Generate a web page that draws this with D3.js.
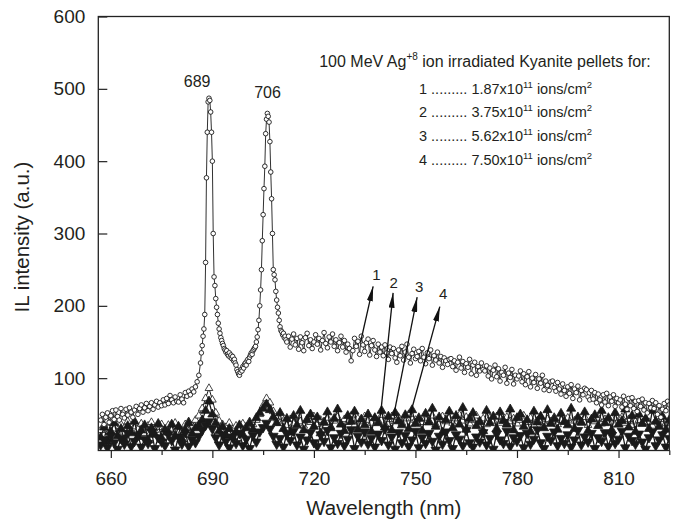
<!DOCTYPE html>
<html>
<head>
<title>IL spectra of 100 MeV Ag ion irradiated Kyanite</title>
<meta charset="utf-8" />
<script src="https://cdnjs.cloudflare.com/ajax/libs/d3/7.8.5/d3.min.js"></script>
<style>
body { margin: 0; background: #fff; }
svg text { font-family: "Liberation Sans", Arial, sans-serif; fill: #231f20; }
</style>
</head>
<body>
<svg id="chart" width="677" height="525"></svg>
<script>
// series 1 (open circles), read off in three pieces
// 657 - 686 nm, every 0.5 nm
const il1a = [42, 50, 36, 46, 52, 39, 48, 55, 43, 56,
	47, 42, 58, 50, 45, 57, 49, 59, 53, 46,
	56, 61, 50, 58, 63, 53, 59, 65, 55, 61,
	66, 57, 63, 68, 60, 66, 62, 70, 63, 72,
	65, 76, 70, 66, 74, 68, 67, 77, 71, 66,
	80, 75, 82, 77, 85, 81, 88, 95, 104];
// 686.5 - 711.75 nm, every 0.25 nm (the two peaks)
const il1b = [121, 135, 145, 158, 168, 188, 260, 377, 440, 482,
	487, 484, 468, 440, 400, 300, 240, 228, 210, 198,
	188, 176, 168, 162, 156, 152, 148, 145, 141, 139,
	136, 138, 133, 131, 135, 129, 132, 127, 130, 124,
	126, 121, 118, 112, 109, 106, 104, 108, 112, 110,
	116, 114, 119, 121, 118, 124, 126, 123, 129, 132,
	135, 133, 138, 140, 142, 144, 150, 157, 167, 180,
	200, 222, 250, 290, 326, 362, 393, 438, 458, 466,
	462, 454, 427, 385, 348, 300, 250, 243, 236, 220,
	208, 198, 190, 180, 171, 166, 164, 160, 162, 156,
	158, 153];
// 712 - 825 nm, every 0.5 nm
const il1c = [150, 158, 143, 154, 161, 146, 155, 140, 157, 149, 138, 156, 162, 145, 153, 141, 150,
	160, 147, 155, 139, 152, 163, 148, 142, 157, 150, 161, 144, 153, 138, 149, 158, 143, 152, 136, 147,
	141, 124, 138, 155, 144, 151, 133, 158, 146, 137, 149, 154, 132, 145, 152, 139, 130, 147, 136, 143,
	131, 146, 135, 126, 143, 134, 141, 128, 122, 139, 131, 144, 125, 136, 147, 129, 121, 134, 140, 127,
	130, 137, 124, 141, 129, 120, 135, 127, 139, 118, 131, 125, 136, 121, 130, 115, 128, 124, 119, 126,
	127, 116, 124, 111, 122, 129, 114, 123, 108, 120, 115, 126, 106, 118, 122, 104, 116, 110, 121, 112,
	110, 117, 103, 114, 99, 111, 118, 102, 113, 96, 108, 104, 115, 93, 107, 101, 112, 92, 104, 99,
	103, 110, 95, 106, 91, 102, 109, 88, 100, 94, 105, 86, 99, 93, 104, 84, 96, 90, 83, 95,
	96, 87, 82, 94, 85, 78, 92, 83, 75, 88, 79, 91, 72, 85, 80, 89, 70, 83, 77, 86,
	84, 74, 70, 83, 71, 80, 66, 78, 70, 63, 77, 67, 79, 62, 74, 68, 77, 61, 72, 66,
	70, 60, 75, 64, 57, 72, 62, 73, 58, 68, 54, 69, 61, 71, 56, 66, 52, 65, 59, 69,
	58, 66, 50, 62, 46, 57, 65, 55, 68, 63];

// series 2 - 4, 657 - 825 nm every 1 nm
const il2 = [28, 35, 22, 38, 30, 25, 36, 31, 40, 27,
	33, 29, 37, 24, 34, 39, 28, 32, 36, 26,
	35, 30, 38, 33, 27, 36, 40, 34, 42, 48,
	58, 72, 86, 70, 52, 41, 36, 32, 38, 29,
	34, 30, 37, 33, 40, 36, 42, 50, 62, 72,
	66, 54, 44, 38, 41, 35, 43, 37, 46, 40,
	34, 44, 39, 47, 36, 42, 38, 45, 33, 41,
	46, 37, 43, 39, 48, 35, 44, 40, 47, 42,
	38, 45, 41, 49, 36, 43, 47, 40, 46, 38,
	44, 50, 37, 42, 46, 39, 45, 41, 48, 36,
	43, 47, 40, 45, 38, 44, 49, 41, 46, 37,
	42, 48, 39, 44, 36, 45, 41, 47, 38, 43,
	46, 40, 44, 37, 42, 48, 39, 45, 35, 41,
	47, 38, 43, 40, 46, 36, 42, 39, 45, 37,
	41, 44, 38, 46, 35, 42, 40, 45, 37, 43,
	39, 44, 36, 41, 46, 38, 43, 35, 40, 42,
	37, 44, 39, 34, 41, 36, 43, 38, 40];
const il3 = [18, 32, 12, 26, 38, 20, 30, 15, 34, 24,
	40, 19, 28, 35, 14, 31, 22, 37, 17, 29,
	25, 36, 20, 33, 16, 28, 38, 23, 31, 35,
	42, 55, 68, 50, 38, 27, 33, 21, 30, 18,
	26, 35, 22, 31, 38, 29, 45, 52, 58, 64,
	56, 46, 38, 52, 30, 44, 25, 48, 35, 55,
	28, 42, 50, 33, 46, 24, 39, 53, 31, 44,
	57, 36, 27, 48, 40, 54, 29, 43, 35, 50,
	26, 45, 38, 55, 32, 47, 28, 52, 41, 35,
	49, 30, 56, 37, 44, 27, 51, 39, 58, 33,
	46, 25, 42, 54, 31, 48, 36, 59, 29, 44,
	52, 34, 40, 27, 55, 38, 47, 30, 53, 41,
	36, 57, 28, 45, 50, 33, 42, 26, 54, 39,
	47, 31, 56, 37, 44, 29, 51, 40, 35, 58,
	30, 46, 39, 53, 27, 43, 49, 34, 55, 38,
	45, 28, 52, 36, 41, 57, 32, 48, 26, 50,
	37, 44, 30, 55, 40, 33, 47, 29, 42];
const il4 = [8, 15, 4, 20, 11, 2, 17, 9, 24, 6,
	13, 21, 5, 16, 10, 26, 3, 18, 12, 7,
	22, 14, 1, 19, 9, 25, 6, 15, 11, 20,
	28, 35, 40, 30, 18, 8, 22, 13, 4, 19,
	10, 24, 7, 16, 3, 21, 12, 26, 32, 38,
	30, 20, 9, 17, 5, 23, 14, 27, 8, 19,
	2, 15, 25, 11, 6, 22, 13, 28, 4, 18,
	10, 24, 7, 16, 29, 3, 20, 12, 26, 9,
	17, 5, 23, 14, 30, 8, 19, 2, 25, 11,
	21, 6, 15, 27, 4, 18, 10, 24, 13, 1,
	20, 9, 26, 14, 3, 22, 16, 7, 28, 11,
	5, 19, 12, 25, 8, 17, 2, 23, 15, 10,
	27, 6, 18, 13, 21, 4, 24, 9, 16, 29,
	11, 3, 20, 14, 26, 7, 17, 10, 22, 5,
	15, 28, 8, 19, 12, 24, 3, 18, 13, 25,
	6, 21, 10, 16, 27, 4, 20, 14, 9, 23,
	12, 2, 18, 26, 7, 15, 22, 5, 17];

const xTicks = [660, 690, 720, 750, 780, 810];
const xMinor = [675, 705, 735, 765, 795, 825];
const yTicks = [100, 200, 300, 400, 500, 600];

// peak annotations [nm, intensity]
const peakNames = ["689", "706"];
const peakAt = [[685.5, 503], [706.3, 487]];

// arrows: sample number, tail and head [nm, intensity]
const arrowNames = ["1", "2", "3", "4"];
const arrowTail = [[733.8, 150], [739.7, 50], [743.6, 49], [748.3, 47]];
const arrowHead = [[737.5, 227], [743.4, 218], [750.5, 212], [757.2, 199]];
const arrowLabel = [[738.5, 243], [743.6, 232], [751.1, 227], [758.2, 217]];

const legendTitle = ["100 MeV Ag", "+8", " ion irradiated Kyanite pellets for:"];
const fluences = ["1.87", "3.75", "5.62", "7.50"];

// build point lists
let s1 = [];
il1a.forEach((v, i) => s1.push([657 + 0.5 * i, v]));
il1b.forEach((v, i) => s1.push([686.5 + 0.25 * i, v]));
il1c.forEach((v, i) => s1.push([712 + 0.5 * i, v]));
const s2 = il2.map((v, i) => [657 + i, v]);
const s3 = il3.map((v, i) => [657 + i, v]);
const s4 = il4.map((v, i) => [657 + i, v]);

let svg = d3.select("#chart");
let plotL = 98.3, plotR = 669.3, plotT = 16.5, plotB = 450.5;

let x = d3.scaleLinear().domain([656.3, 825]).range([plotL, plotR]);
let y = d3.scaleLinear().domain([0, 600]).range([plotB, plotT]);

let defs = svg.append("defs");
defs.append("clipPath").attr("id", "plot")
	.append("rect")
	.attr("x", plotL).attr("y", plotT)
	.attr("width", plotR - plotL).attr("height", plotB - plotT);
defs.append("marker")
	.attr("id", "head")
	.attr("viewBox", "0 0 15 6")
	.attr("refX", 15).attr("refY", 3)
	.attr("markerWidth", 15).attr("markerHeight", 6)
	.attr("markerUnits", "userSpaceOnUse")
	.attr("orient", "auto")
	.append("path")
	.attr("d", "M0,0L15,3L0,6Z")
	.attr("fill", "#111");

let line = d3.line().x(d => x(d[0])).y(d => y(d[1]));
let g = svg.append("g").attr("clip-path", "url(#plot)");

function drawSeries(pts, symbol, size, fill, flip, lw) {
	g.append("path")
		.datum(pts)
		.attr("d", line)
		.attr("fill", "none")
		.attr("stroke", "#1a1a1a")
		.attr("stroke-width", lw);
	g.append("g").selectAll("path")
		.data(pts)
		.enter()
		.append("path")
			.attr("d", d3.symbol().type(symbol).size(size))
			.attr("transform", d => "translate(" + x(d[0]) + "," + y(d[1]) + ")" + (flip ? " rotate(180)" : ""))
			.attr("fill", fill)
			.attr("stroke", "#1a1a1a")
			.attr("stroke-width", 0.8);
}

drawSeries(s2, d3.symbolTriangle, 26, "#fff", false, 1);
drawSeries(s3, d3.symbolTriangle, 36, "#1a1a1a", false, 1.3);
drawSeries(s4, d3.symbolTriangle, 40, "#1a1a1a", true, 1.3);

// series 1
g.append("path")
	.datum(s1)
	.attr("d", line)
	.attr("fill", "none")
	.attr("stroke", "#1a1a1a")
	.attr("stroke-width", 0.9);
g.append("g").selectAll("circle")
	.data(s1)
	.enter()
	.append("circle")
		.attr("cx", d => x(d[0]))
		.attr("cy", d => y(d[1]))
		.attr("r", 2.3)
		.attr("fill", "#fff")
		.attr("stroke", "#1a1a1a")
		.attr("stroke-width", 0.9);

// axes
svg.append("g")
	.attr("transform", "translate(0," + plotB + ")")
	.call(d3.axisBottom(x).tickValues(xTicks).tickSize(7.5).tickPadding(14).tickFormat(d3.format("d")));
svg.append("g")
	.attr("transform", "translate(0," + plotB + ")")
	.call(d3.axisBottom(x).tickValues(xMinor).tickSize(4.5).tickFormat(""));
svg.append("g")
	.attr("transform", "translate(" + plotL + ",0)")
	.call(d3.axisLeft(y).tickValues(yTicks).tickSizeInner(-9).tickSizeOuter(0).tickPadding(13));
svg.selectAll(".domain").remove();
svg.selectAll(".tick line").attr("stroke", "#222").attr("stroke-width", 1.2);
svg.selectAll(".tick text")
	.style("font-family", "'Liberation Sans', Arial, sans-serif")
	.style("font-size", "19px")
	.attr("fill", "#2b2b2b");

svg.append("rect")
	.attr("x", plotL).attr("y", plotT)
	.attr("width", plotR - plotL).attr("height", plotB - plotT)
	.attr("fill", "none")
	.attr("stroke", "#222")
	.attr("stroke-width", 1.3);

// axis titles
svg.append("text")
	.attr("x", (plotL + plotR) / 2)
	.attr("y", 515)
	.attr("text-anchor", "middle")
	.style("font-size", "20.5px")
	.text("Wavelength (nm)");
svg.append("text")
	.attr("transform", "translate(29,237) rotate(-90)")
	.attr("text-anchor", "middle")
	.style("font-size", "20.5px")
	.text("IL intensity (a.u.)");

// peak labels
svg.selectAll(".peak")
	.data(peakNames)
	.enter()
	.append("text")
		.attr("class", "peak")
		.attr("x", (d, i) => x(peakAt[i][0]))
		.attr("y", (d, i) => y(peakAt[i][1]))
		.attr("text-anchor", "middle")
		.style("font-size", "16px")
		.text(d => d);

// arrows
arrowNames.forEach((n, i) => {
	svg.append("line")
		.attr("x1", x(arrowTail[i][0])).attr("y1", y(arrowTail[i][1]))
		.attr("x2", x(arrowHead[i][0])).attr("y2", y(arrowHead[i][1]))
		.attr("stroke", "#111")
		.attr("stroke-width", 1.3)
		.attr("marker-end", "url(#head)");
	svg.append("text")
		.attr("x", x(arrowLabel[i][0]))
		.attr("y", y(arrowLabel[i][1]))
		.attr("text-anchor", "middle")
		.attr("dominant-baseline", "central")
		.style("font-size", "15px")
		.text(n);
});

// legend
let title = svg.append("text")
	.attr("x", 485).attr("y", 67)
	.attr("text-anchor", "middle")
	.style("font-size", "16px");
title.append("tspan").text(legendTitle[0]);
title.append("tspan").attr("dy", -7).style("font-size", "10px").text(legendTitle[1]);
title.append("tspan").attr("dy", 7).text(legendTitle[2]);

fluences.forEach((f, i) => {
	let t = svg.append("text")
		.attr("x", 419).attr("y", 93.5 + i * 23.9)
		.style("font-size", "14.5px");
	t.append("tspan").text((i + 1) + " ......... " + f + "x10");
	t.append("tspan").attr("dy", -6).style("font-size", "9.5px").text("11");
	t.append("tspan").attr("dy", 6).text(" ions/cm");
	t.append("tspan").attr("dy", -6).style("font-size", "9.5px").text("2");
});
</script>
</body>
</html>
